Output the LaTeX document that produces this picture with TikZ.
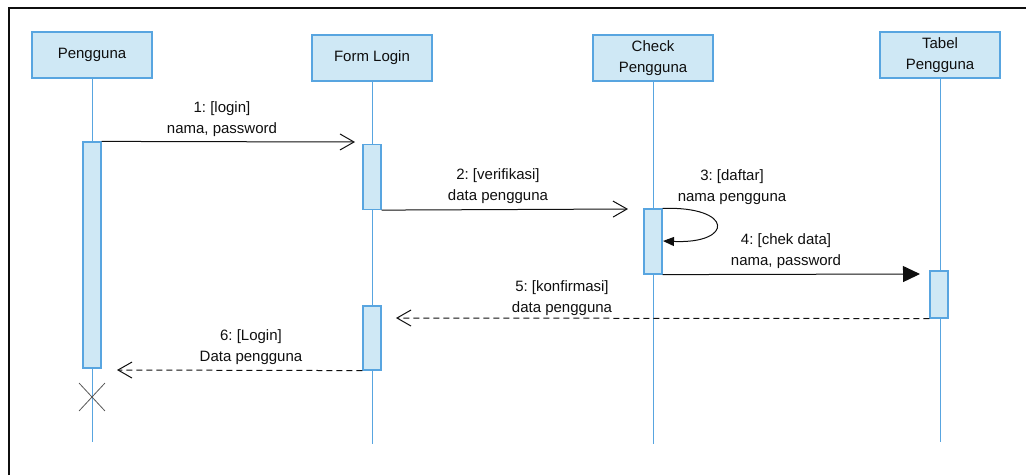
\documentclass[tikz,border=0pt]{standalone}
\usepackage{fontspec}
\setmainfont{Liberation Sans}
\usetikzlibrary{arrows.meta,shapes.misc}
\definecolor{lblue}{RGB}{207,232,245}
\definecolor{lline}{RGB}{88,165,224}
\definecolor{ink}{RGB}{15,15,15}
\frenchspacing
\begin{document}
\begin{tikzpicture}[x=1pt, y=-1pt]
\tikzstyle{every node}=[font=\fontsize{15}{21}\selectfont, text=ink]
\tikzstyle{obj}=[rectangle, draw=lline, fill=lblue, line width=1.2pt, minimum width=120pt, minimum height=46pt, align=center, inner sep=0pt]
\tikzstyle{act}=[rectangle, draw=lline, fill=lblue, line width=1.2pt, minimum width=18pt, inner sep=0pt]
\tikzstyle{life}=[draw=lline, line width=1pt]
\tikzstyle{msg}=[draw=ink, line width=1pt, -{Straight Barb[length=14pt, width=16pt]}]
\tikzstyle{call}=[draw=ink, line width=1pt, -{Triangle[length=17pt, width=16pt]}]
\tikzstyle{back}=[msg, dash pattern=on 6pt off 4pt]
\tikzstyle{lbl}=[align=center, inner sep=0pt]
\useasboundingbox (0,0) rectangle (1026,475);
\draw[ink, line width=2pt] (9,475) -- (9,8) -- (1026,8);
\draw node[obj] (o1) at (92,55) {Pengguna};
\draw node[obj] (o2) at (372,58) {Form Login};
\draw node[obj] (o3) at (653,58) {Check\\Pengguna};
\draw node[obj] (o4) at (940,55) {Tabel\\Pengguna};
\coordinate (e1) at (92,442);
\coordinate (e2) at (372,444);
\coordinate (e3) at (653,444);
\coordinate (e4) at (940,442);
\draw[life] (o1) to (e1);
\draw[life] (o2) to (e2);
\draw[life] (o3) to (e3);
\draw[life] (o4) to (e4);
\draw node[act, minimum height=226pt] (a1) at (92,255) {};
\draw node[act, minimum height=65pt] (a2) at (372,177) {};
\draw node[act, minimum height=64pt] (a3) at (372,338) {};
\draw node[act, minimum height=65pt] (a4) at (653,241.5) {};
\draw node[act, minimum height=47pt] (a5) at (939,294.5) {};
\draw node[cross out, draw=ink!70, line width=0.8pt, minimum width=25pt, minimum height=27pt] (x1) at (92,397) {};
\coordinate (m1) at (355,142);
\coordinate (m2) at (628,209);
\coordinate (m3) at (663,241);
\coordinate (m4) at (920,274);
\coordinate (m5) at (396,318);
\coordinate (m6) at (117,370);
\draw[msg] (a1.north east) to (m1);
\draw[msg] (a2.south east) to (m2);
\draw[draw=ink, line width=1pt, -{Triangle[length=11pt, width=9pt]}] (a4.north east) .. controls (734,206) and (734,244) .. (m3);
\draw[call] (a4.south east) to (m4);
\draw[back] (a5.south west) to (m5);
\draw[back] (a3.south west) to (m6);
\draw node[lbl] (l1) at (222,119) {1: [login]\\nama, password};
\draw node[lbl] (l2) at (498,186) {2: [verifikasi]\\data pengguna};
\draw node[lbl] (l3) at (732,187) {3: [daftar]\\nama pengguna};
\draw node[lbl] (l4) at (786,251) {4: [chek data]\\nama, password};
\draw node[lbl] (l5) at (562,298) {5: [konfirmasi]\\data pengguna};
\draw node[lbl] (l6) at (251,347) {6: [Login]\\Data pengguna};
\end{tikzpicture}
\end{document}
